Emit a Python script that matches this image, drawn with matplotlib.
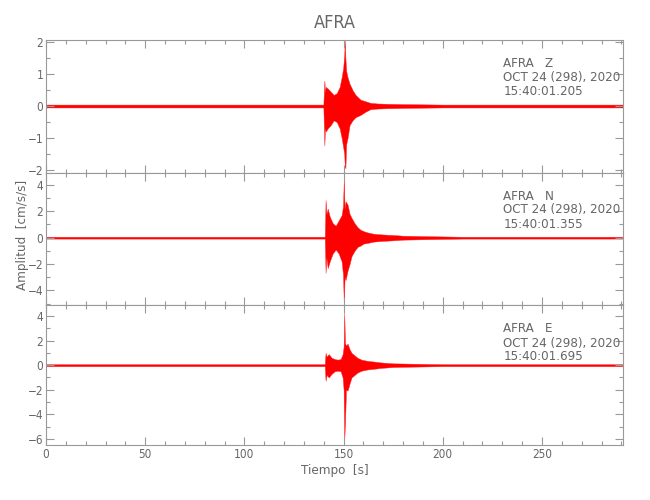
import matplotlib
matplotlib.use("Agg")
import matplotlib.pyplot as plt
from matplotlib.ticker import MultipleLocator

plt.rcParams["font.family"] = ["DejaVu Sans"]
plt.rcParams["font.stretch"] = "condensed"
plt.rcParams["font.weight"] = "light"

GREY = "#666666"
AXC = "#999999"

# envelope of the traces (time [s], upper, lower)
t_z = [0, 139.8, 140.3, 140.6, 141.0, 142, 143.5, 145, 146.5, 148, 149, 149.8, 150.3,
       150.6, 150.9, 151.3, 152, 153, 154.5, 156, 158.5, 161, 163.5, 167, 172, 180, 200, 292]
up_z = [0.045, 0.045, 0.8, 0.45, 0.6, 0.55, 0.45, 0.35, 0.4, 0.6, 0.9, 1.2, 1.6,
        2.05, 1.5, 1.1, 0.9, 0.7, 0.5, 0.35, 0.2, 0.15, 0.1, 0.08, 0.07, 0.06, 0.045, 0.045]
lo_z = [-0.045, -0.045, -1.24, -0.7, -0.8, -0.7, -0.6, -0.45, -0.5, -0.7, -1.0, -1.3, -1.5,
        -1.9, -1.95, -1.2, -1.0, -0.6, -0.45, -0.35, -0.28, -0.18, -0.1, -0.08, -0.07, -0.06, -0.045, -0.045]

t_n = [0, 140.5, 140.9, 141.3, 142, 143, 144.5, 146, 147.5, 149, 149.7, 150.1, 150.5, 151,
       152, 153, 154, 155.5, 157, 158.5, 160, 162, 165, 169, 175, 180, 190, 210, 292]
up_n = [0.07, 0.07, 2.86, 1.8, 2.2, 1.6, 1.1, 0.9, 1.3, 1.7, 2.4, 4.5, 2.2, 2.75,
        2.5, 1.8, 1.5, 1.1, 0.8, 0.6, 0.5, 0.4, 0.3, 0.25, 0.2, 0.15, 0.12, 0.07, 0.07]
lo_n = [-0.07, -0.07, -2.67, -1.5, -2.3, -1.8, -1.2, -0.9, -1.2, -1.8, -2.8, -5.1, -3.0, -3.2,
        -2.5, -2.0, -1.4, -1.0, -0.7, -0.6, -0.45, -0.4, -0.3, -0.25, -0.2, -0.15, -0.12, -0.07, -0.07]

t_e = [0, 140.5, 140.9, 141.4, 142.5, 144, 145.5, 147, 148.5, 149.5, 150.0, 150.3, 150.7,
       151.2, 152, 153, 154, 155.5, 157, 159, 162, 165, 169, 175, 185, 200, 292]
up_e = [0.08, 0.08, 1.0, 0.7, 0.9, 0.6, 0.5, 0.45, 0.5, 0.9, 1.5, 4.25, 1.8,
        1.6, 1.75, 1.3, 1.0, 0.8, 0.6, 0.45, 0.35, 0.3, 0.22, 0.15, 0.12, 0.08, 0.08]
lo_e = [-0.08, -0.08, -1.27, -0.8, -1.0, -0.7, -0.5, -0.45, -0.5, -1.0, -2.0, -6.1, -4.75,
        -2.0, -2.07, -1.5, -1.0, -0.8, -0.6, -0.45, -0.35, -0.3, -0.22, -0.15, -0.12, -0.08, -0.08]

stations = ["AFRA   Z", "AFRA   N", "AFRA   E"]
dates = ["OCT 24 (298), 2020"] * 3
times = ["15:40:01.205", "15:40:01.355", "15:40:01.695"]
ylims = [(-2.1, 2.07), (-5.1, 4.9), (-6.5, 4.9)]
yticks = [[-2, -1, 0, 1, 2], [-4, -2, 0, 2, 4], [-6, -4, -2, 0, 2, 4]]
yminor = [0.5, 1, 1]
traces = [(t_z, up_z, lo_z), (t_n, up_n, lo_n), (t_e, up_e, lo_e)]

fig = plt.figure(figsize=(6.5, 5), dpi=100)
gs = fig.add_gridspec(3, 1, left=0.0708, right=0.959, top=0.92, bottom=0.11,
                      hspace=0, height_ratios=[133, 132, 140])

axes = []
for i in range(3):
    ax = fig.add_subplot(gs[i])
    axes.append(ax)
    t, up, lo = traces[i]
    ax.fill_between(t, lo, up, color="#ff0000", lw=0.3, edgecolor="#ff2020")
    ax.set_xlim(0, 291)
    ax.set_ylim(*ylims[i])
    ax.set_yticks(yticks[i])
    ax.yaxis.set_minor_locator(MultipleLocator(yminor[i]))
    ax.xaxis.set_major_locator(MultipleLocator(50))
    ax.xaxis.set_minor_locator(MultipleLocator(10))
    ax.tick_params(which="both", direction="in", top=True, right=True,
                   colors=AXC, labelcolor=GREY, labelsize=8.5, pad=2)
    ax.tick_params(which="major", length=6, width=0.8)
    ax.tick_params(which="minor", length=3, width=0.8)
    for s in ax.spines.values():
        s.set_color(AXC)
        s.set_linewidth(0.8)
    if i < 2:
        ax.tick_params(labelbottom=False)
    ax.text(0.792, 0.875, stations[i] + "\n" + dates[i] + "\n" + times[i],
            transform=ax.transAxes, ha="left", va="top", color=GREY,
            fontsize=9.5, linespacing=1.1)

axes[2].set_xlabel("Tiempo  [s]", color=GREY, fontsize=9.5, labelpad=2)
fig.text(0.034, 0.53, "Amplitud  [cm/s/s]", rotation=90, ha="center", va="center",
         color=GREY, fontsize=9.5)
fig.text(0.515, 0.955, "AFRA", ha="center", va="center", color=GREY, fontsize=13)

fig.savefig("out.png", dpi=100)
